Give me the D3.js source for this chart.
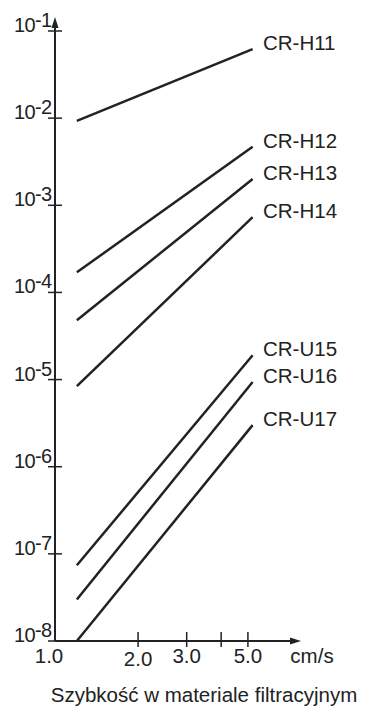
<!DOCTYPE html>
<html>
<head>
<meta charset="utf-8">
<script src="https://cdn.jsdelivr.net/npm/d3@7"></script>
<style>
  body { margin: 0; background: #fff; }
  svg text { font-family: "Liberation Sans", Arial, sans-serif; fill: #222; }
</style>
</head>
<body>
<svg width="369" height="709"></svg>
<script>
// series names
var series = ["CR-H11", "CR-H12", "CR-H13", "CR-H14", "CR-U15", "CR-U16", "CR-U17"];
// velocity range of every line (cm/s)
var speedStart = 1.2, speedEnd = 5.2;
// penetration at start / end of each line
var startValues = [9.3e-3, 1.7e-4, 4.8e-5, 8.4e-6, 7.4e-8, 3.0e-8, 1.0e-8];
var endValues   = [6.2e-2, 4.7e-3, 2.0e-3, 7.3e-4, 1.9e-5, 9.4e-6, 3.0e-6];
// axis ticks
var yExponents = [-1, -2, -3, -4, -5, -6, -7, -8];
var xTicks = [2, 3, 4, 5];
var xTickLabels = ["1.0", "2.0", "3.0", "", "5.0"];
var xLabelAt = [1, 2, 3, 4, 5];
var unit = "cm/s";
var xTitle = "Szybkość w materiale filtracyjnym";

var svg = d3.select("svg");

var x = d3.scaleLog().domain([1, 10]).range([55, 331]);
var y = d3.scaleLog().domain([1e-8, 1e-1]).range([641, 31]);

var ink = "#222";
var fs = 20.5;

// y axis with arrow
svg.append("line")
    .attr("x1", x(1)).attr("x2", x(1))
    .attr("y1", y(1e-8)).attr("y2", 22)
    .attr("stroke", ink).attr("stroke-width", 2);
svg.append("path")
    .attr("d", "M" + x(1) + ",17 L" + (x(1) - 3.5) + ",28 L" + (x(1) + 3.5) + ",28 Z")
    .attr("fill", ink);

// x axis with arrow
svg.append("line")
    .attr("x1", x(1)).attr("x2", 294)
    .attr("y1", y(1e-8)).attr("y2", y(1e-8))
    .attr("stroke", ink).attr("stroke-width", 2);
svg.append("path")
    .attr("d", "M301," + y(1e-8) + " L290," + (y(1e-8) - 3.5) + " L290," + (y(1e-8) + 3.5) + " Z")
    .attr("fill", ink);

// y ticks + labels (10 with superscript exponent)
var yt = svg.append("g").selectAll("g")
    .data(yExponents)
    .enter().append("g");

yt.append("line")
    .attr("x1", x(1) - 7).attr("x2", x(1) + 7)
    .attr("y1", function(d) { return y(Math.pow(10, d)); })
    .attr("y2", function(d) { return y(Math.pow(10, d)); })
    .attr("stroke", ink).attr("stroke-width", 1.5);

var ytext = yt.append("text")
    .attr("x", 14)
    .attr("y", function(d) { return y(Math.pow(10, d)) + 1; })
    .attr("font-size", 20)
    .style("letter-spacing", "-0.6px");
ytext.append("tspan").text("10");
ytext.append("tspan").attr("dy", -5).text(function(d) { return d; });

// x ticks
svg.append("g").selectAll("line")
    .data(xTicks)
    .enter().append("line")
    .attr("x1", function(d) { return x(d); })
    .attr("x2", function(d) { return x(d); })
    .attr("y1", y(1e-8) - 9).attr("y2", y(1e-8) + 6)
    .attr("stroke", ink).attr("stroke-width", 1.5);

svg.append("g").selectAll("text")
    .data(xLabelAt)
    .enter().append("text")
    .attr("x", function(d) { return x(d) - (d === 1 ? 6 : 0); })
    .attr("y", function(d) { return y(1e-8) + (d === 2 ? 25 : 22); })
    .attr("text-anchor", "middle")
    .attr("font-size", fs)
    .text(function(d, i) { return xTickLabels[i]; });

svg.append("text")
    .attr("x", 312).attr("y", y(1e-8) + 22)
    .attr("text-anchor", "middle")
    .attr("font-size", fs)
    .text(unit);

svg.append("text")
    .attr("x", 204).attr("y", 702)
    .attr("text-anchor", "middle")
    .attr("font-size", fs)
    .text(xTitle);

// series lines
var lines = svg.append("g").selectAll("g")
    .data(series)
    .enter().append("g");

lines.append("line")
    .attr("x1", x(speedStart))
    .attr("x2", x(speedEnd))
    .attr("y1", function(d, i) { return y(startValues[i]); })
    .attr("y2", function(d, i) { return y(endValues[i]); })
    .attr("stroke", ink)
    .attr("stroke-width", 2.5);

lines.append("text")
    .attr("x", 263)
    .attr("y", function(d, i) { return y(endValues[i]) - 6; })
    .attr("dy", "0.35em")
    .attr("font-size", fs)
    .text(function(d) { return d; });
</script>
</body>
</html>
